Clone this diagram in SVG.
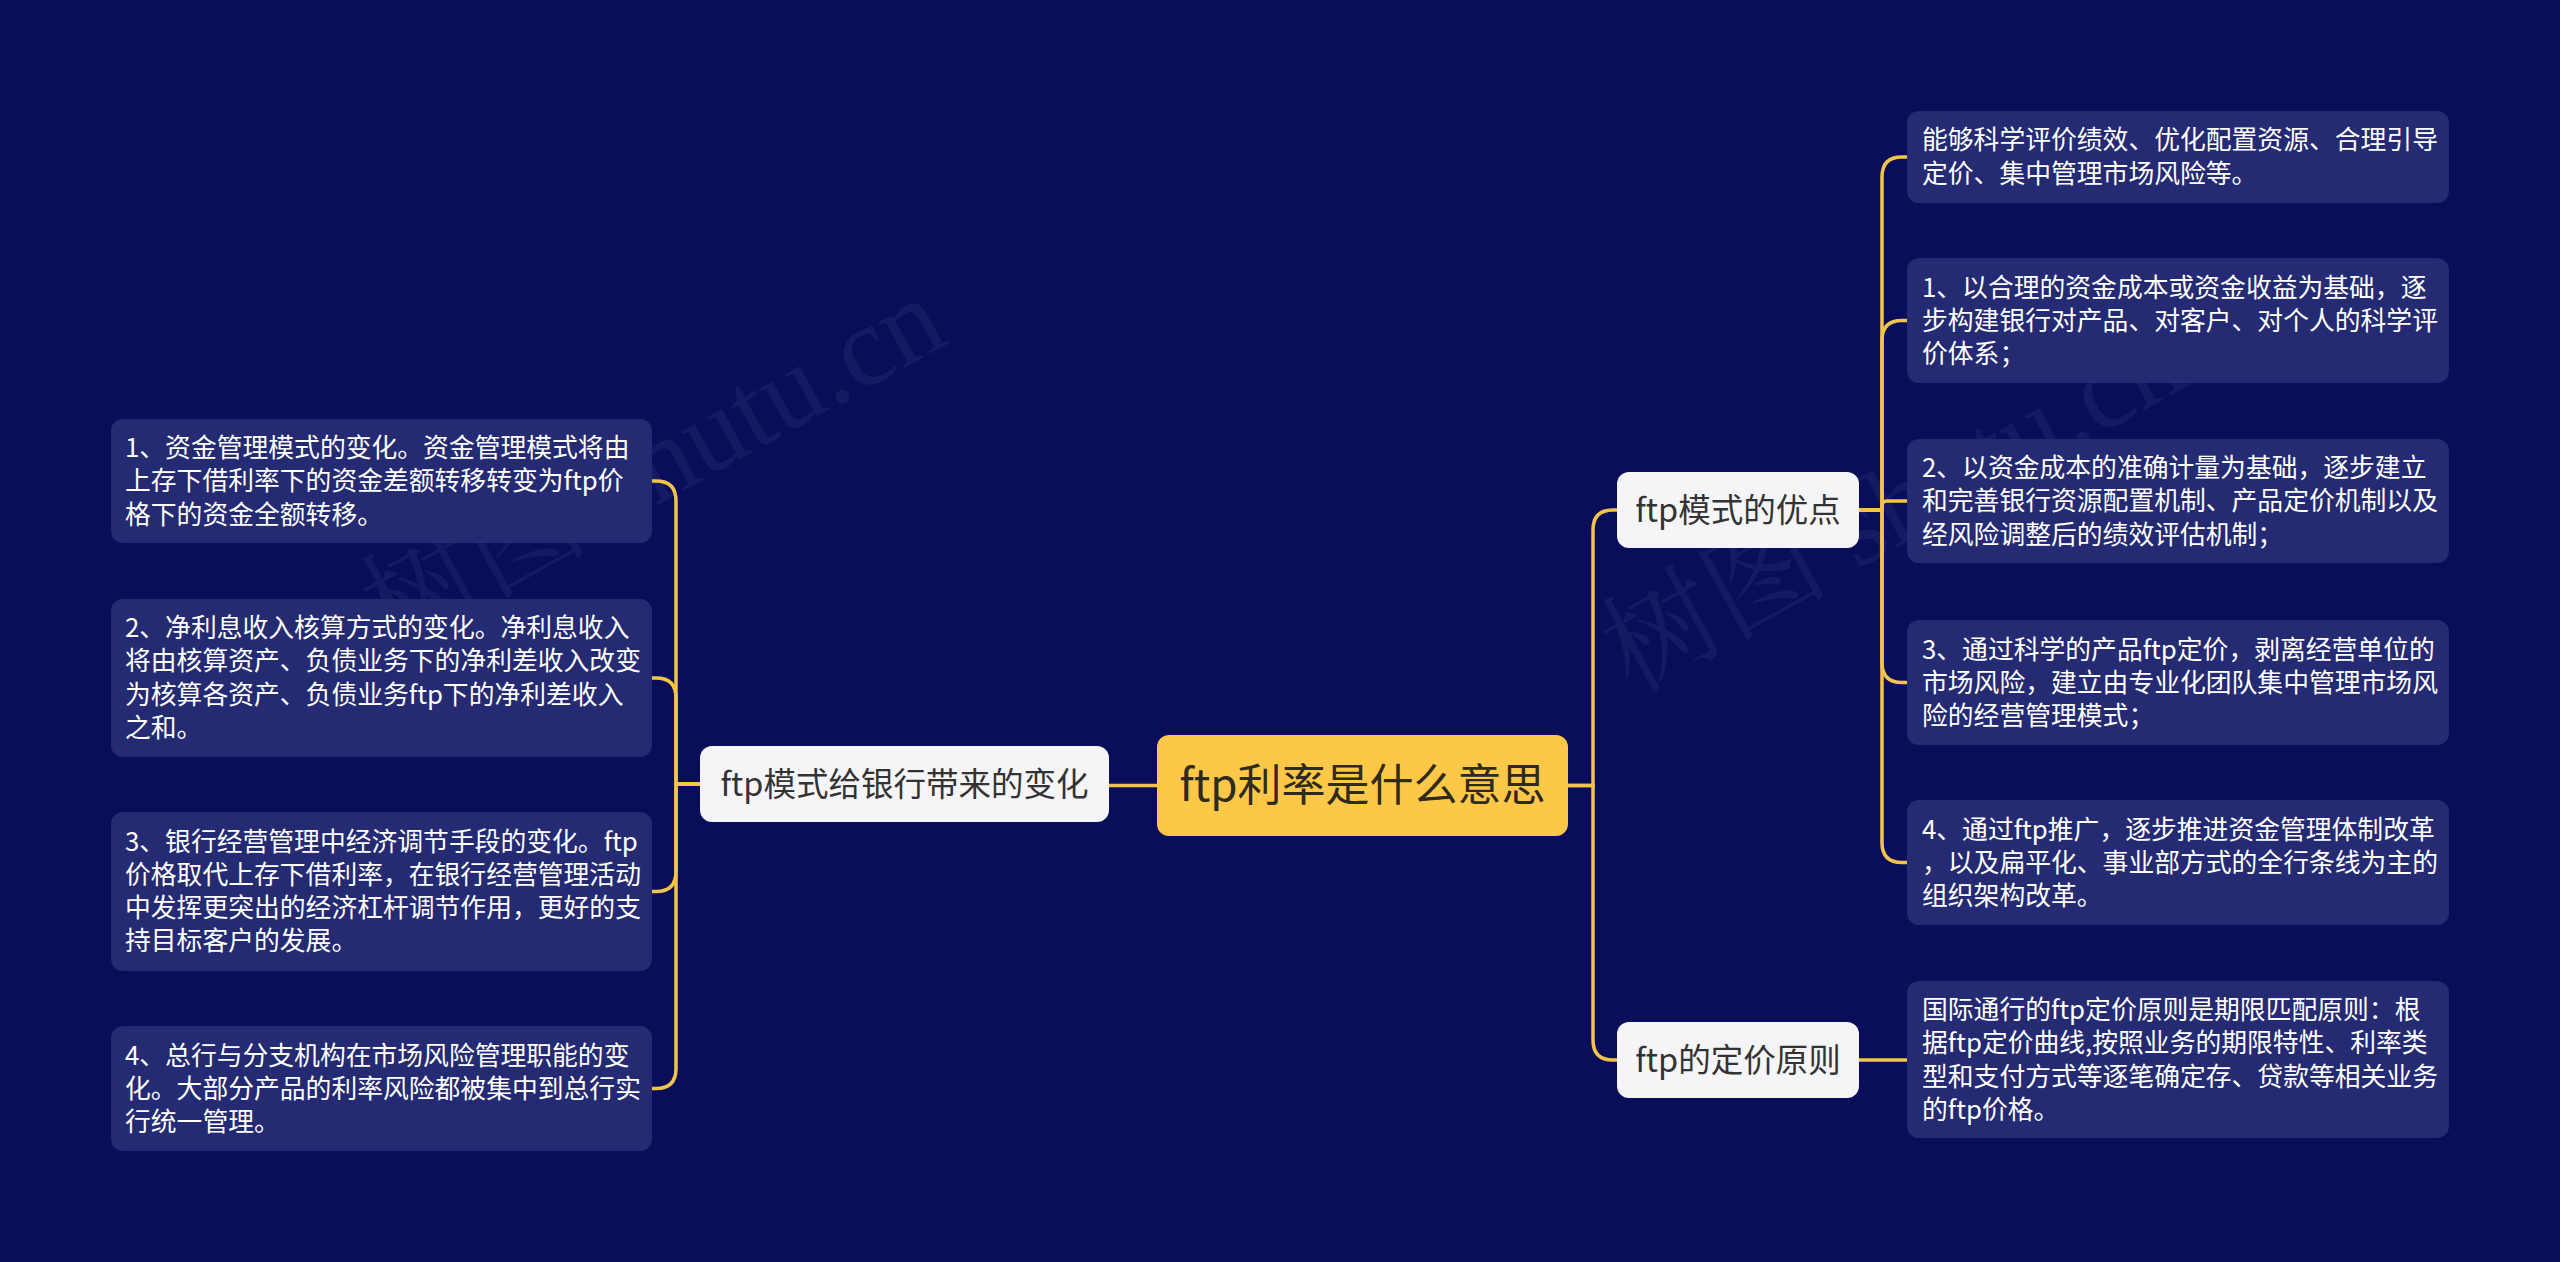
<svg xmlns="http://www.w3.org/2000/svg" width="2560" height="1262" viewBox="0 0 2560 1262">
<defs>
<style>
.bg{fill:#0a0e5a}
.leaf rect{fill:#242b73}
.leaf text{fill:#ffffff;font-family:"Noto Sans CJK SC","Noto Sans",sans-serif;font-size:25.8px}
.branch rect{fill:#f5f5f7}
.branch text{fill:#333333;font-family:"Noto Sans CJK SC","Noto Sans",sans-serif;font-size:32.5px;text-anchor:middle}
.root rect{fill:#fdc847}
.root text{fill:#2e2a1e;font-family:"Noto Sans CJK SC","Noto Sans",sans-serif;font-size:44px;text-anchor:middle}
.conn path{fill:none;stroke:#f3c44b;stroke-width:3.5;stroke-linecap:round}
.wm{fill:#ffffff;fill-opacity:0.05;font-family:"Liberation Serif","Noto Serif CJK SC","Noto Sans CJK SC",serif;font-size:114px}
</style>
</defs>
<rect class="bg" x="0" y="0" width="2560" height="1262"/>

<g id="watermarks">
<text class="wm" transform="translate(392,652) rotate(-29)">树图 shutu.cn</text>
<text class="wm" transform="translate(1632,694) rotate(-29)">树图 shutu.cn</text>
</g>

<g id="connectors" class="conn">
<path d="M1157,785.5 H1109"/>
<path d="M700,784 H676 V501 Q676,481 656,481 H652"/>
<path d="M700,784 H676 V698 Q676,678 656,678 H652"/>
<path d="M700,784 H676 V871.5 Q676,891.5 656,891.5 H652"/>
<path d="M700,784 H676 V1068.5 Q676,1088.5 656,1088.5 H652"/>
<path d="M1568,785.5 H1593 V530 Q1593,510 1613,510 H1617"/>
<path d="M1568,785.5 H1593 V1040 Q1593,1060 1613,1060 H1617"/>
<path d="M1859,510 H1882 V177 Q1882,157 1902,157 H1907"/>
<path d="M1859,510 H1882 V340.5 Q1882,320.5 1902,320.5 H1907"/>
<path d="M1859,510 H1882 V506 Q1882,501 1887,501 H1907"/>
<path d="M1859,510 H1882 V662.5 Q1882,682.5 1902,682.5 H1907"/>
<path d="M1859,510 H1882 V842.5 Q1882,862.5 1902,862.5 H1907"/>
<path d="M1859,1060 H1907"/>
</g>

<g id="root" class="root">
<rect x="1157" y="735" width="411" height="101" rx="12"/>
<text x="1362.5" y="801">ftp利率是什么意思</text>
</g>

<g id="branch-left" class="branch">
<rect x="700" y="746" width="409" height="76" rx="12"/>
<text x="904.5" y="796">ftp模式给银行带来的变化</text>
</g>

<g id="branch-adv" class="branch">
<rect x="1617" y="472" width="242" height="76" rx="12"/>
<text x="1738" y="522">ftp模式的优点</text>
</g>

<g id="branch-price" class="branch">
<rect x="1617" y="1022" width="242" height="76" rx="12"/>
<text x="1738" y="1072">ftp的定价原则</text>
</g>

<g id="leaf-l1" class="leaf">
<rect x="111" y="419" width="541" height="124" rx="12"/>
<text x="125" y="457">1、资金管理模式的变化。资金管理模式将由</text>
<text x="125" y="490.3">上存下借利率下的资金差额转移转变为ftp价</text>
<text x="125" y="523.6">格下的资金全额转移。</text>
</g>

<g id="leaf-l2" class="leaf">
<rect x="111" y="599" width="541" height="158" rx="12"/>
<text x="125" y="637">2、净利息收入核算方式的变化。净利息收入</text>
<text x="125" y="670.3">将由核算资产、负债业务下的净利差收入改变</text>
<text x="125" y="703.6">为核算各资产、负债业务ftp下的净利差收入</text>
<text x="125" y="736.9">之和。</text>
</g>

<g id="leaf-l3" class="leaf">
<rect x="111" y="812" width="541" height="159" rx="12"/>
<text x="125" y="850.5">3、银行经营管理中经济调节手段的变化。ftp</text>
<text x="125" y="883.8">价格取代上存下借利率，在银行经营管理活动</text>
<text x="125" y="917.1">中发挥更突出的经济杠杆调节作用，更好的支</text>
<text x="125" y="950.4">持目标客户的发展。</text>
</g>

<g id="leaf-l4" class="leaf">
<rect x="111" y="1026" width="541" height="125" rx="12"/>
<text x="125" y="1064.5">4、总行与分支机构在市场风险管理职能的变</text>
<text x="125" y="1097.8">化。大部分产品的利率风险都被集中到总行实</text>
<text x="125" y="1131.1">行统一管理。</text>
</g>

<g id="leaf-r1" class="leaf">
<rect x="1907" y="111" width="542" height="92" rx="12"/>
<text x="1922" y="149.3">能够科学评价绩效、优化配置资源、合理引导</text>
<text x="1922" y="182.6">定价、集中管理市场风险等。</text>
</g>

<g id="leaf-r2" class="leaf">
<rect x="1907" y="258" width="542" height="125" rx="12"/>
<text x="1922" y="296.5">1、以合理的资金成本或资金收益为基础，逐</text>
<text x="1922" y="329.8">步构建银行对产品、对客户、对个人的科学评</text>
<text x="1922" y="363.1">价体系；</text>
</g>

<g id="leaf-r3" class="leaf">
<rect x="1907" y="439" width="542" height="124" rx="12"/>
<text x="1922" y="477">2、以资金成本的准确计量为基础，逐步建立</text>
<text x="1922" y="510.3">和完善银行资源配置机制、产品定价机制以及</text>
<text x="1922" y="543.6">经风险调整后的绩效评估机制；</text>
</g>

<g id="leaf-r4" class="leaf">
<rect x="1907" y="620" width="542" height="125" rx="12"/>
<text x="1922" y="658.5">3、通过科学的产品ftp定价，剥离经营单位的</text>
<text x="1922" y="691.8">市场风险，建立由专业化团队集中管理市场风</text>
<text x="1922" y="725.1">险的经营管理模式；</text>
</g>

<g id="leaf-r5" class="leaf">
<rect x="1907" y="800" width="542" height="125" rx="12"/>
<text x="1922" y="838.5">4、通过ftp推广，逐步推进资金管理体制改革</text>
<text x="1922" y="871.8">，以及扁平化、事业部方式的全行条线为主的</text>
<text x="1922" y="905.1">组织架构改革。</text>
</g>

<g id="leaf-r6" class="leaf">
<rect x="1907" y="981" width="542" height="157" rx="12"/>
<text x="1922" y="1019">国际通行的ftp定价原则是期限匹配原则：根</text>
<text x="1922" y="1052.3">据ftp定价曲线,按照业务的期限特性、利率类</text>
<text x="1922" y="1085.6">型和支付方式等逐笔确定存、贷款等相关业务</text>
<text x="1922" y="1118.9">的ftp价格。</text>
</g>
</svg>
